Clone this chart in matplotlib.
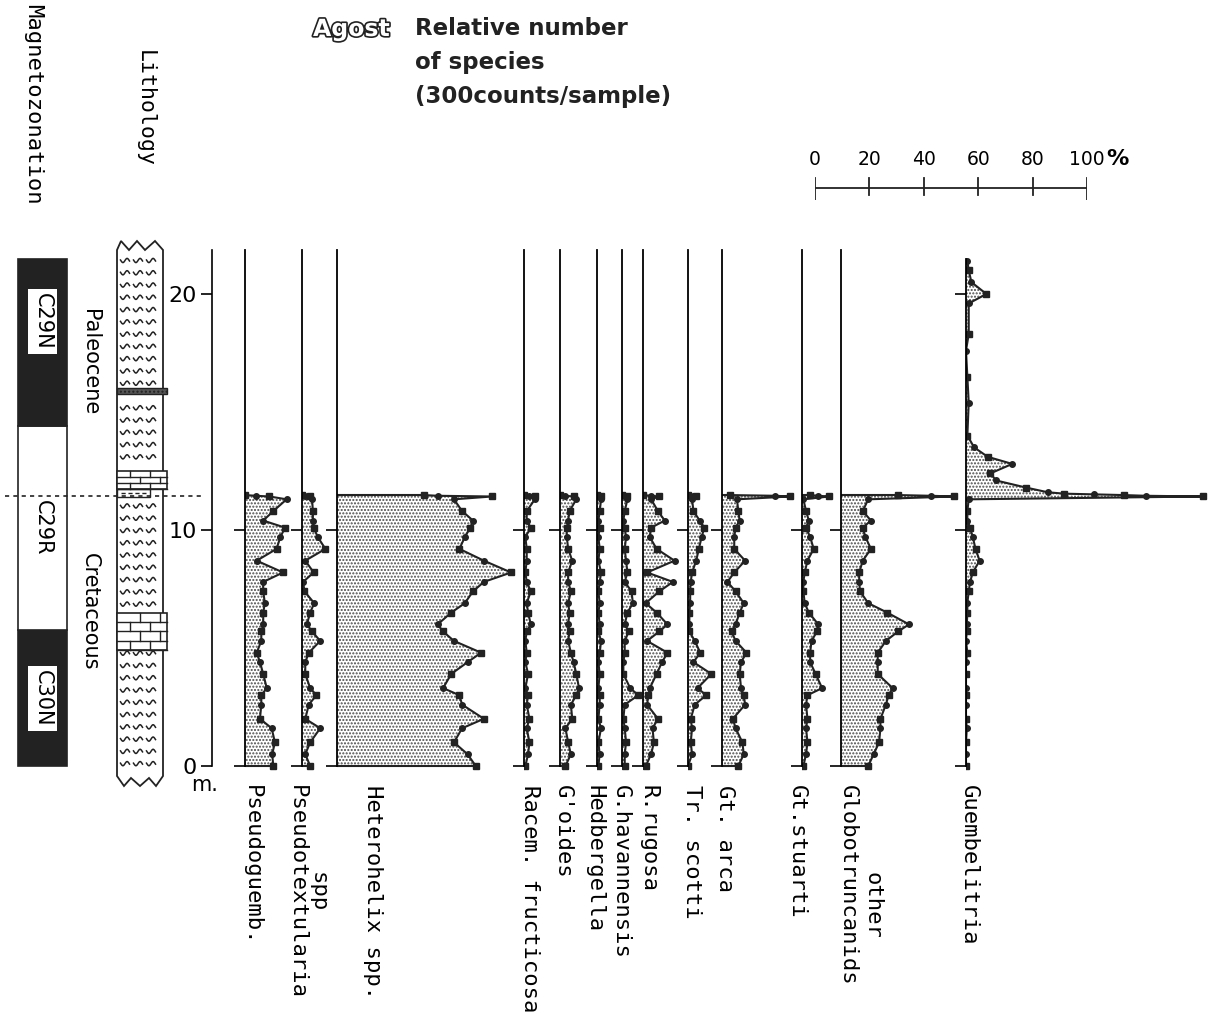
import numpy as np
import matplotlib.pyplot as plt
import matplotlib.patheffects as pe
from matplotlib.patches import Rectangle, Polygon

W, H = 1213, 1015
INK = '#222222'
PX_PCT = 2.72          # pixels per 1 % on the species scale
PX_M = 23.6            # pixels per metre
Y_ZERO = 766           # pixel row of 0 m
Y_TOP, Y_BOT = 230, 800
TOP_M = (Y_ZERO - 250) / PX_M
KT = 11.45

# sample depths (m)
depth = [0, 0.5, 1.0, 1.6, 2.0, 2.6, 3.0, 3.3, 3.9, 4.4, 4.8, 5.3, 5.7,
         6.0, 6.5, 6.9, 7.4, 7.8, 8.2, 8.7, 9.2, 9.7, 10.1, 10.4, 10.8, 11.3]
kt_depth = [11.42, 11.45, 11.48]
pal_depth = [11.51, 11.54, 11.6, 11.8, 12.1, 12.4, 12.8, 13.1, 13.5, 14.0,
             15.4, 16.5, 17.6, 18.3, 19.6, 20.0, 20.5, 21.0, 21.4]

# relative abundance (%), cretaceous samples + K/T samples
pseudoguemb = [10.4, 10, 11, 9.8, 5.5, 6, 6, 8, 6.7, 5.5, 4.3, 6, 6, 6.7, 6.7,
               7.3, 6.7, 6.7, 14, 4.3, 11.6, 13, 14.7, 6.7, 10.4, 15.3, 9, 4, 0]
pseudotext = [3, 1.2, 3, 6.7, 1.2, 2.5, 5.3, 3, 1.2, 1.2, 2.5, 6.7, 3.7, 1.8, 3,
              4.5, 0.9, 0.4, 4.3, 1.2, 8.6, 5.8, 4.3, 4, 4, 3.7, 3, 1, 0]
heterohelix = [51, 48, 43, 46, 54, 46, 45, 39, 42, 48, 53, 43, 39, 37, 42, 47,
               50, 54, 64, 54, 45, 47, 49, 50, 46, 43, 57, 37, 32]
racemiguembelina = [0.5, 1.5, 2, 1, 2, 1, 1.5, 0.5, 1.5, 0.5, 1, 0.5, 1, 2.5, 1.5,
                    1, 2.5, 1, 0.5, 1, 1, 0.5, 2.5, 1, 1, 4, 4, 2, 0]
globigerinelloides = [2, 4, 3, 2, 4.5, 4, 6, 7, 6, 5, 4, 3, 3.5, 3, 3.5, 3, 4, 3,
                      3, 4.5, 3, 2.5, 2.5, 3, 3.5, 6, 5, 2, 0]
hedbergella = [0.5, 1, 0.5, 1.5, 0.5, 1, 1, 0.5, 1, 0.5, 1, 1.5, 0.5, 1, 0.5, 1,
               0.5, 1, 1.5, 0.5, 1, 0.5, 1, 0.5, 1, 1.5, 1.5, 0.5, 0]
havanensis = [1, 1, 1.5, 1, 0.5, 1, 6, 3, 0.5, 0.5, 1, 1, 2.5, 1, 2, 4, 3.5, 1,
              2, 1.5, 1, 1.5, 1, 0.5, 1, 2, 2, 1, 0]
rugosa = [1, 3, 4, 3.5, 5.5, 1.5, 2, 2.5, 5, 7, 9, 1.5, 6, 9, 5, 1, 6, 11, 1.5,
          11.6, 5, 2.5, 3, 8, 5.5, 3, 6, 3, 0]
scotti = [0, 1.5, 1, 1.5, 1, 2.5, 6.7, 3.5, 8.6, 2, 4.5, 2.5, 0.5, 0.5, 0.5, 0.8,
          0.8, 1, 1.5, 3, 4, 5, 6, 4.3, 2, 1.5, 3, 2, 0]
arca = [6, 8, 7.5, 5, 4, 8.5, 8, 7, 6.5, 7, 9, 5, 3.5, 5, 6.5, 8, 5, 2, 4.5, 8.5,
        4.5, 4.5, 5, 6.5, 6, 5.5, 25, 19.6, 3]
stuarti = [0.5, 1.5, 2, 1.5, 2, 1.5, 2, 7.4, 5, 3, 3, 3.5, 5.5, 6, 2.5, 1, 0.5,
           0.5, 1, 2, 4.3, 3, 1.5, 2.5, 1.5, 0.5, 10, 6, 3]
other_globo = [10, 12, 14, 14.5, 14.5, 16.5, 17.5, 19, 13.5, 13.5, 13.5, 16.5, 21,
               25, 17, 10, 7, 6.7, 6.7, 8, 11, 9, 8, 11, 8, 10, 41.7, 33, 21]
guembelitria = [0, 0, 0, 0.3, 0, 0, 0, 0, 0, 0, 0.5, 0, 0.3, 0.3, 0.5, 0.5, 1,
                1.5, 2.5, 5, 3.5, 2.5, 1.5, 0.5, 0.5, 1, 87, 66, 58,
                47, 36, 30, 22, 11, 9, 17, 8, 3, 0.5, 1, 0.5, 0, 1, 1, 7.5, 2, 1, 0.5]

# magnetozones (bottom, top, polarity)
zone_bot = [0, 5.75, 14.4]
zone_top = [5.75, 14.4, 21.5]
zone_name = ['C30N', 'C29R', 'C29N']
zone_normal = [True, False, True]

fig = plt.figure(figsize=(W / 100, H / 100), dpi=100)
plt.rcParams['hatch.linewidth'] = 1.0


def m(ypx):
    return (Y_ZERO - ypx) / PX_M


def px_axes(x0, x1):
    ax = fig.add_axes([x0 / W, 1 - Y_BOT / H, (x1 - x0) / W, (Y_BOT - Y_TOP) / H])
    ax.set_ylim(m(Y_BOT), m(Y_TOP))
    ax.patch.set_alpha(0)
    return ax


# ---- magnetozonation, lithology, depth scale
col = px_axes(0, 212)
col.set_xlim(0, 212)
col.axis('off')
for b, t, nm, nrm in zip(zone_bot, zone_top, zone_name, zone_normal):
    col.add_patch(Rectangle((18, b), 49, t - b, facecolor=INK if nrm else 'white',
                            edgecolor=INK, lw=1.2))
    bb = dict(facecolor='white', edgecolor='none', pad=3) if nrm else None
    col.text(42.5, (b + t) / 2 + (0.9 if nm == 'C29N' else 0), nm, rotation=270,
             ha='center', va='center', fontsize=15, color='black', bbox=bb)
col.text(90, m(362), 'Paleocene', rotation=270, ha='center', va='center', fontsize=15)
col.text(90, m(612), 'Cretaceous', rotation=270, ha='center', va='center', fontsize=15)

# lithology column
lx0, lx1 = 117, 163
zig_top = [(lx0, m(250)), (121, m(241)), (129, m(250)), (137, m(241)),
           (145, m(250)), (155, m(241)), (lx1, m(250))]
zig_bot = [(lx1, m(776)), (156, m(786)), (149, m(778)), (140, m(786)),
           (131, m(778)), (124, m(786)), (lx0, m(776))]
col.add_patch(Polygon(zig_top + zig_bot, closed=True, facecolor='white',
                      edgecolor=INK, lw=1.3))
skip = [(4.85, 6.55), (11.3, 12.6), (15.7, 16.1)]
wx = np.linspace(-4.5, 4.5, 14)
for r in np.arange(0.1, 21.7, 0.52):
    if any(a <= r <= b for a, b in skip):
        continue
    for cx in (125, 138, 151):
        col.plot(cx + wx, r + 0.09 * np.sin(wx * 0.75), color=INK, lw=1.1)
for b, t, right in [(4.9, 6.5, 167), (11.75, 12.5, 167)]:
    col.add_patch(Rectangle((lx0, b), right - lx0, t - b, facecolor='white',
                            edgecolor=INK, lw=1.2))
    rows = np.linspace(b, t, 5 if t - b > 1 else 4)
    for i, (y0, y1) in enumerate(zip(rows[:-1], rows[1:])):
        col.plot([lx0, right], [y0, y0], color=INK, lw=1)
        for xx in ((130, 150) if i % 2 == 0 else (140, 160)):
            col.plot([xx, xx], [y0, y1], color=INK, lw=1)
col.add_patch(Rectangle((lx0, 11.38), 33, 0.35, facecolor='white', edgecolor=INK, lw=1))
col.plot([121, 147], [11.55, 11.55], color=INK, lw=1, ls=(0, (3, 2)))
col.add_patch(Rectangle((lx0, 15.75), 50, 0.25, facecolor='#555555', edgecolor=INK,
                        lw=1, hatch='....'))
col.plot([5, 205], [KT, KT], color=INK, lw=1.2, ls=(0, (2.5, 2.5)))

scale = px_axes(212, 260)
for s in ('top', 'right', 'bottom'):
    scale.spines[s].set_visible(False)
scale.spines['left'].set_bounds(0, TOP_M)
scale.spines['left'].set_linewidth(1.2)
scale.set_xticks([])
scale.set_yticks([0, 10, 20])
scale.tick_params(axis='y', direction='out', length=8, width=1.2, labelsize=16, pad=3)
fig.text(205 / W, 1 - 785 / H, 'm.', fontsize=15, ha='center', va='center')

# ---- species panels
panels = [
    ('Pseudoguemb.', 245, pseudoguemb),
    ('Pseudotextularia', 302, pseudotext),
    ('Heterohelix spp.', 337, heterohelix),
    ('Racem. fructicosa', 524, racemiguembelina),
    ("G'oides", 560, globigerinelloides),
    ('Hedbergella', 597, hedbergella),
    ('G.havannensis', 622, havanensis),
    ('R.rugosa', 643, rugosa),
    ('Tr. scotti', 688, scotti),
    ('Gt. arca', 722, arca),
    ('Gt.stuarti', 802, stuarti),
    ('Globotruncanids', 841, other_globo),
    ('Guembelitria', 966, guembelitria),
]
label_x = {'Pseudoguemb.': 252, 'Pseudotextularia': 297, 'Heterohelix spp.': 373,
           'Racem. fructicosa': 530, "G'oides": 563, 'Hedbergella': 595,
           'G.havannensis': 621, 'R.rugosa': 649, 'Tr. scotti': 692,
           'Gt. arca': 725, 'Gt.stuarti': 797, 'Globotruncanids': 848,
           'Guembelitria': 969}

for name, bx, vals in panels:
    d = depth + kt_depth + (pal_depth if name == 'Guembelitria' else [])
    ax = px_axes(bx, bx + 100 * PX_PCT)
    ax.set_xlim(0, 100)
    for s in ('top', 'right', 'bottom'):
        ax.spines[s].set_visible(False)
    ax.spines['left'].set_linewidth(1.3)
    ax.spines['left'].set_bounds(0, 21.5 if name == 'Guembelitria' else TOP_M)
    ax.set_xticks([])
    ax.set_yticks([0, 10, 20] if name == 'Guembelitria' else [0, 10])
    ax.tick_params(axis='y', direction='out', length=8, width=1.2, labelleft=False)
    ax.fill_betweenx(d, 0, vals, facecolor='white', edgecolor='#4a4a4a',
                     hatch='.....', lw=0)
    ax.plot(vals, d, color=INK, lw=1.5)
    ax.plot(vals[::2], d[::2], 's', color=INK, ms=4.5)
    ax.plot(vals[1::2], d[1::2], 'o', color=INK, ms=4)
    ax.plot([0, vals[0]], [d[0], d[0]], color=INK, lw=1.5)
    ax.plot([0, vals[-1]], [d[-1], d[-1]], color=INK, lw=1.5)
    fig.text(label_x[name] / W, 1 - 785 / H, name, rotation=270, ha='center',
             va='top', fontsize=16, family='DejaVu Sans Mono')

fig.text(318 / W, 1 - 892 / H, 'spp', rotation=270, ha='center', va='center',
         fontsize=16, family='DejaVu Sans Mono')
fig.text(872 / W, 1 - 905 / H, 'other', rotation=270, ha='center', va='center',
         fontsize=16, family='DejaVu Sans Mono')

# ---- headers
fig.text(33 / W, 1 - 4 / H, 'Magnetozonation', rotation=270, ha='center', va='top',
         fontsize=16, family='DejaVu Sans Mono')
fig.text(145 / W, 1 - 50 / H, 'Lithology', rotation=270, ha='center', va='top',
         fontsize=15.5, family='DejaVu Sans Mono')
fig.text(313 / W, 1 - 29 / H, 'Agost', fontsize=17, fontweight='bold', color='white',
         ha='left', va='center',
         path_effects=[pe.withStroke(linewidth=2.4, foreground=INK)])
fig.text(415 / W, 1 - 17 / H, 'Relative number\nof species\n(300counts/sample)',
         fontsize=16.5, fontweight='bold', ha='left', va='top', linespacing=1.62,
         color=INK)

# ---- percent scale bar
sb = fig.add_axes([815 / W, 1 - 200 / H, 100 * PX_PCT / W, 25 / H])
sb.set_xlim(0, 100)
sb.set_ylim(0, 1)
sb.axis('off')
sb.plot([0, 100], [0.48, 0.48], color=INK, lw=1.3)
for t in range(0, 101, 20):
    lo = 0.0 if t in (0, 100) else 0.2
    sb.plot([t, t], [lo, 0.9], color=INK, lw=1.3)
    sb.text(t, 1.25, str(t), ha='center', va='bottom', fontsize=13.5)
sb.text(107, 1.25, '%', ha='left', va='bottom', fontsize=16, fontweight='bold')

fig.savefig('out.png', dpi=100)
